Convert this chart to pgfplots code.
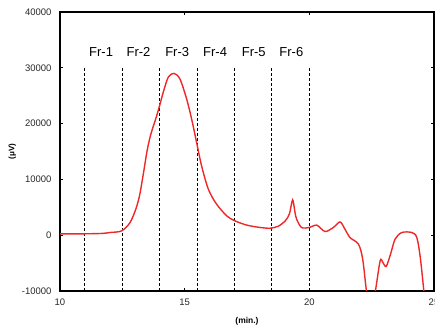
\documentclass[border=0pt]{standalone}
\usepackage{fontspec}
\setmainfont{Liberation Sans}
\usepackage{pgfplots}
\pgfplotsset{compat=1.18}
\definecolor{curve}{RGB}{238,40,40}
\definecolor{ticktext}{RGB}{40,40,40}
\begin{document}
\begin{tikzpicture}
\useasboundingbox (-60bp,-36bp) rectangle (375bp,291bp);
\clip (-60bp,-36bp) rectangle (375bp,291bp);
\begin{axis}[
  at={(0,0)}, anchor=south west,
  scale only axis,
  width=374bp, height=279bp,
  xmin=10, xmax=25, ymin=-10000, ymax=40000,
  xtick={10,15,20,25}, ytick={-10000,0,10000,20000,30000,40000},
  tick align=inside,
  major tick length=3bp,
  axis line style={line width=1.3bp},
  tick style={line width=0.8bp, black},
  scaled y ticks=false,
  /pgf/number format/assume math mode=true,
  /pgf/number format/set thousands separator={},
  ticklabel style={font=\fontsize{9.5bp}{11bp}\selectfont, text=ticktext},
  yticklabel style={xshift=-5bp},
  xticklabel style={yshift=-4bp},
  ylabel={\textbf{(μV)}},
  ylabel style={font=\fontsize{8bp}{10bp}\selectfont, at={(axis description cs:-0.108,0.5)}, anchor=south},
  xlabel={\textbf{(min.)}},
  xlabel style={font=\fontsize{8.5bp}{10bp}\selectfont, yshift=-5bp},
  clip=true,
]
\addplot[black, line width=0.9bp, dash pattern=on 3bp off 2bp] coordinates {(11,-10000) (11,30000)};
\addplot[black, line width=0.9bp, dash pattern=on 3bp off 2bp] coordinates {(12.5,-10000) (12.5,30000)};
\addplot[black, line width=0.9bp, dash pattern=on 3bp off 2bp] coordinates {(14,-10000) (14,30000)};
\addplot[black, line width=0.9bp, dash pattern=on 3bp off 2bp] coordinates {(15.5,-10000) (15.5,30000)};
\addplot[black, line width=0.9bp, dash pattern=on 3bp off 2bp] coordinates {(17,-10000) (17,30000)};
\addplot[black, line width=0.9bp, dash pattern=on 3bp off 2bp] coordinates {(18.5,-10000) (18.5,30000)};
\addplot[black, line width=0.9bp, dash pattern=on 3bp off 2bp] coordinates {(20,-10000) (20,30000)};
\addplot[curve, line width=1.4bp, smooth, tension=0.5] coordinates {
(10,250) (11,250) (11.7,320) (12.0,480) (12.47,770) (12.81,2270) (13.05,4800)
(13.2,7300) (13.35,11200) (13.5,15300) (13.65,18200) (13.85,21000) (14.0,23300)
(14.14,25600) (14.34,28300) (14.57,29000) (14.81,28000) (15.08,24400)
(15.28,20800) (15.48,16600) (15.68,12400) (15.95,8240) (16.28,5560)
(16.69,3460) (17.02,2560) (17.5,1800) (18.0,1400) (18.42,1250) (18.75,1600)
(19.03,2560) (19.2,3800) (19.33,6330) (19.42,4200) (19.49,2870) (19.69,1380)
(20.0,1380) (20.3,1800) (20.63,660) (20.96,1380) (21.23,2380) (21.4,1300)
(21.63,-410) (21.97,-1610) (22.14,-4300) (22.3,-10270) (22.47,-14000)
(22.64,-10270) (22.84,-4600) (22.95,-4900) (23.08,-5600) (23.25,-3500)
(23.44,-700) (23.71,480) (24.11,480) (24.31,-410) (24.45,-4000) (24.6,-10270)
(24.7,-14000)
};
\node[font=\fontsize{13bp}{15bp}\selectfont] at (axis cs:11.65,32850) {Fr-1};
\node[font=\fontsize{13bp}{15bp}\selectfont] at (axis cs:13.15,32850) {Fr-2};
\node[font=\fontsize{13bp}{15bp}\selectfont] at (axis cs:14.7,32850) {Fr-3};
\node[font=\fontsize{13bp}{15bp}\selectfont] at (axis cs:16.22,32850) {Fr-4};
\node[font=\fontsize{13bp}{15bp}\selectfont] at (axis cs:17.77,32850) {Fr-5};
\node[font=\fontsize{13bp}{15bp}\selectfont] at (axis cs:19.28,32850) {Fr-6};
\end{axis}
\end{tikzpicture}
\end{document}
